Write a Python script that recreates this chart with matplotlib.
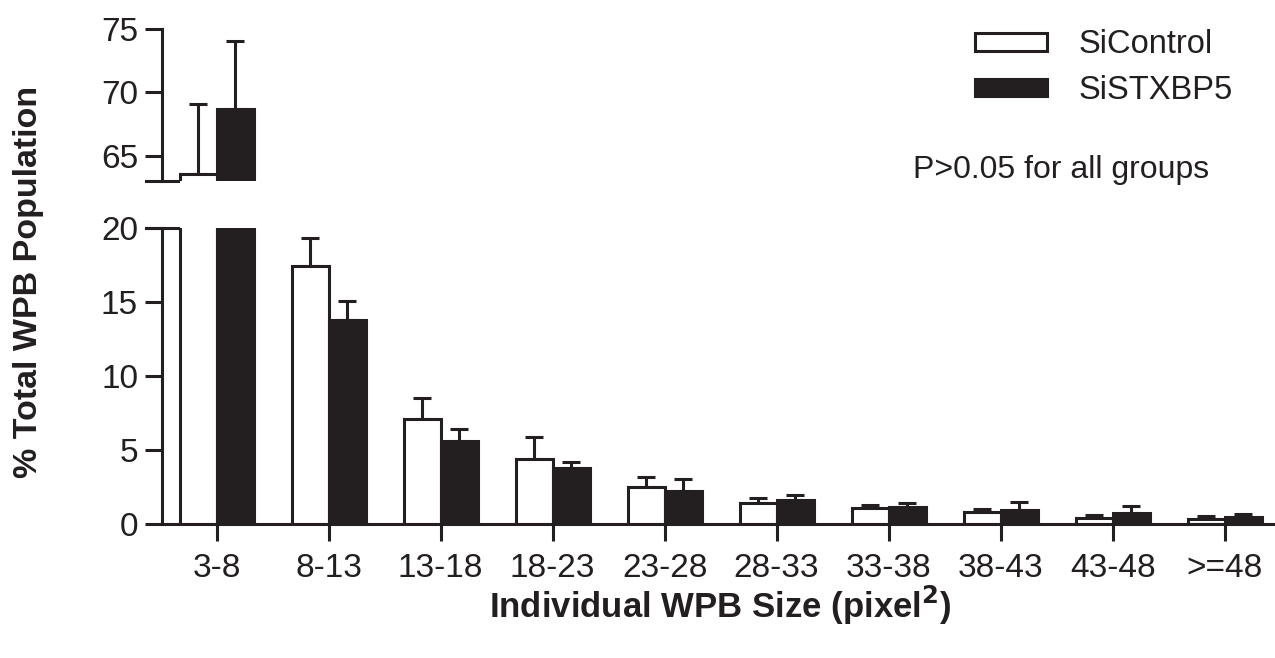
import matplotlib
matplotlib.use('Agg')
import matplotlib.pyplot as plt
from matplotlib.patches import Patch
import numpy as np

plt.rcParams['font.family'] = ['Liberation Sans', 'DejaVu Sans']

categories = ['3-8', '8-13', '13-18', '18-23', '23-28', '28-33', '33-38', '38-43', '43-48', '>=48']
control_mean = [63.57, 17.43, 7.09, 4.39, 2.52, 1.44, 1.06, 0.83, 0.41, 0.32]
control_err = [5.48, 1.87, 1.44, 1.51, 0.68, 0.32, 0.20, 0.18, 0.20, 0.22]
stxbp5_mean = [68.7, 13.78, 5.61, 3.78, 2.21, 1.62, 1.15, 0.97, 0.77, 0.45]
stxbp5_err = [5.35, 1.31, 0.81, 0.39, 0.83, 0.36, 0.25, 0.52, 0.43, 0.23]

dark = '#231f20'
lw = 2.2
w = 0.33
x = np.arange(len(categories))

fig = plt.figure(figsize=(12.75, 6.58), dpi=100)
ax_top = fig.add_axes([0.1268, 0.7249, 0.8732, 0.2310])
ax_bot = fig.add_axes([0.1268, 0.2036, 0.8732, 0.4499])

for ax in (ax_top, ax_bot):
    ax.bar(x - w / 2, control_mean, w, color='white', edgecolor=dark, linewidth=lw, zorder=2)
    ax.bar(x + w / 2, stxbp5_mean, w, color=dark, edgecolor=dark, linewidth=lw, zorder=2)
    ax.errorbar(x - w / 2, control_mean, yerr=[np.zeros(len(x)), control_err], fmt='none',
                ecolor=dark, elinewidth=lw, capsize=6.5, capthick=lw, zorder=1)
    ax.errorbar(x + w / 2, stxbp5_mean, yerr=[np.zeros(len(x)), stxbp5_err], fmt='none',
                ecolor=dark, elinewidth=lw, capsize=6.5, capthick=lw, zorder=1)
    ax.set_xlim(-0.49, 9.45)
    for s in ['top', 'right']:
        ax.spines[s].set_visible(False)
    ax.spines['left'].set_linewidth(lw)
    ax.spines['left'].set_color(dark)
    ax.spines['bottom'].set_linewidth(lw)
    ax.spines['bottom'].set_color(dark)
    ax.tick_params(axis='both', length=12, width=lw, color=dark, labelsize=24,
                   labelcolor=dark, pad=5)

# upper segment
ax_top.set_ylim(63, 75)
ax_top.set_yticks([65, 70, 75])
ax_top.spines['bottom'].set_visible(False)
ax_top.set_xticks([])
ax_top.plot([-0.0144, 0.0144], [63, 63], color=dark, lw=lw, clip_on=False,
            transform=ax_top.get_yaxis_transform())

# lower segment
ax_bot.set_ylim(0, 20)
ax_bot.set_yticks([0, 5, 10, 15, 20])
ax_bot.set_xticks(x)
ax_bot.set_xticklabels(categories)
ax_bot.tick_params(axis='x', pad=9)
ax_bot.plot([-0.0144, 0.0144], [20, 20], color=dark, lw=lw, clip_on=False,
            transform=ax_bot.get_yaxis_transform())

# legend
handles = [Patch(facecolor='white', edgecolor=dark, linewidth=lw),
           Patch(facecolor=dark, edgecolor=dark, linewidth=lw)]
fig.legend(handles, ['SiControl', 'SiSTXBP5'], loc='upper left',
           bbox_to_anchor=(0.742, 1.0), frameon=False, fontsize=23.5,
           labelcolor=dark, handlelength=2.2, handleheight=0.45,
           handletextpad=0.95, labelspacing=0.45)

fig.text(0.716, 0.742, 'P>0.05 for all groups', fontsize=23, color=dark,
         va='center', ha='left')

fig.text(0.022, 0.571, '% Total WPB Population', rotation=90, fontsize=24.5,
         fontweight='bold', color=dark, ha='center', va='center')
fig.text(0.565, 0.08, 'Individual WPB Size (pixel$^\\mathbf{2}$)', fontsize=25,
         fontweight='bold', color=dark, ha='center', va='center')

fig.savefig('out.png', dpi=100)
